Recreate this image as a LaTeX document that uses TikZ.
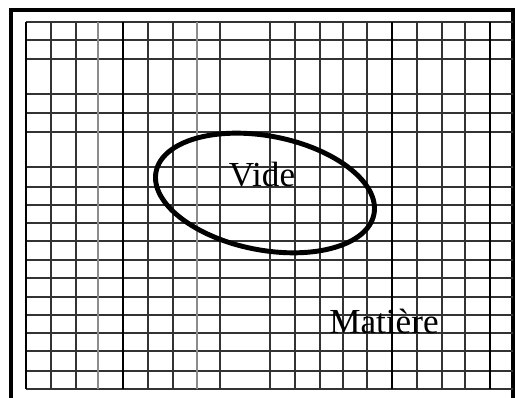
\documentclass[tikz,border=0pt]{standalone}
\usepackage{fontspec}
\setmainfont{Liberation Serif}
\usepackage{tikz}
\usetikzlibrary{calc}

\begin{document}
\begin{tikzpicture}[x=0.02cm,y=-0.02cm,
    gridline/.style={black!80,line width=1pt},
    gridthick/.style={black,line width=1.4pt},
    gridlight/.style={black!45,line width=0.8pt},
    label/.style={font=\fontsize{20}{23}\selectfont}]
        \useasboundingbox (0,0) rectangle (515,398);
        % frame
        \draw[line width=1.8pt] (11,398) -- (11,10) -- (513,10) -- (513,398);
        % grid
        \foreach \y in {22,40,59,94,113,132,167,187,205,223,241,260,278,297,315,333,351,371,389}
        \draw[gridline] (26,\y) -- (513,\y);
        \foreach \x in {51,76,148,173,220,270,295,320,343,367,417,442,465}
        \draw[gridline] (\x,22) -- (\x,389);
        \foreach \x in {26,123,392,490}
        \draw[gridthick] (\x,22) -- (\x,389);
        \foreach \x in {98,197}
        \draw[gridlight] (\x,22) -- (\x,389);
        % hole
        \draw[line width=2.8pt] (265,193) ellipse[x radius=111,y radius=57,rotate=-11];
        \node[label] (vide) at (262,175) {Vide};
        \node[label] (matiere) at (384,321) {Matière};
                \end{tikzpicture}
\end{document}
